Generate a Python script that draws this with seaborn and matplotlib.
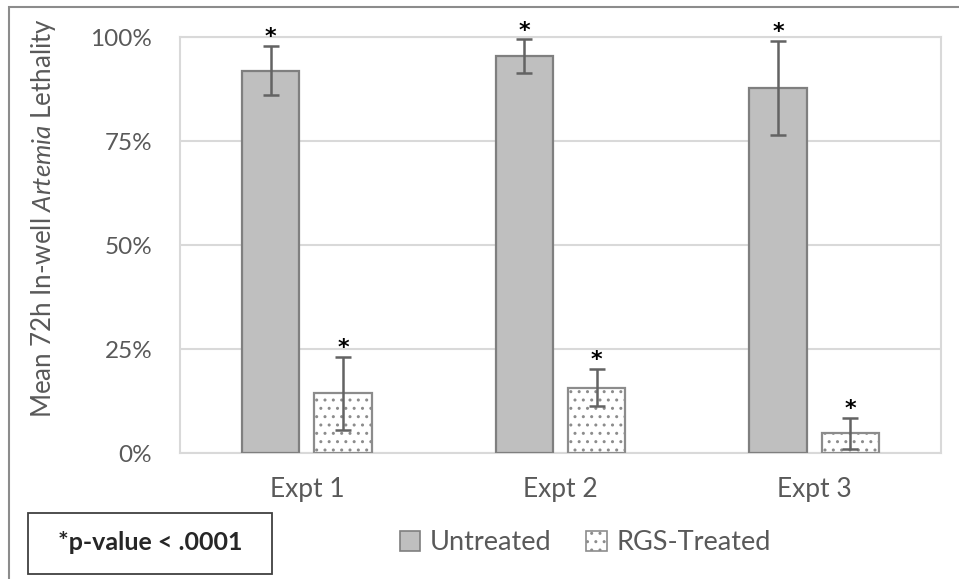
import matplotlib
matplotlib.use("Agg")
import matplotlib.pyplot as plt
from matplotlib.patches import Rectangle, Patch
from matplotlib.ticker import PercentFormatter
import seaborn as sns
import pandas as pd

# Mean 72 h lethality (fraction) and standard deviations per experiment
experiments = ["Expt 1", "Expt 2", "Expt 3"]
treatments = ["Untreated", "RGS-Treated"]
untreated_mean = [0.920, 0.955, 0.878]
untreated_sd = [0.059, 0.040, 0.113]
rgs_mean = [0.144, 0.158, 0.048]
rgs_sd = [0.088, 0.045, 0.038]
y_ticks = [0.0, 0.25, 0.50, 0.75, 1.00]

df = pd.DataFrame({
    "Experiment": experiments * 2,
    "Treatment": [treatments[0]] * 3 + [treatments[1]] * 3,
    "Lethality": untreated_mean + rgs_mean,
    "SD": untreated_sd + rgs_sd,
})

sns.set_theme(style="white")
plt.rcParams["font.family"] = ["Lato", "DejaVu Sans"]
plt.rcParams["mathtext.fontset"] = "custom"
plt.rcParams["mathtext.rm"] = "Lato"
plt.rcParams["mathtext.it"] = "Lato:italic"
plt.rcParams["hatch.color"] = "#b3b3b3"
plt.rcParams["hatch.linewidth"] = 1.0

text_gray = "#595959"
grid_gray = "#d9d9d9"

fig = plt.figure(figsize=(9.59, 5.79), dpi=100)
ax = fig.add_axes([0.1877, 0.2171, 0.9812 - 0.1877, 0.9356 - 0.2171])

sns.barplot(
    data=df, x="Experiment", y="Lethality", hue="Treatment",
    order=experiments, hue_order=treatments,
    palette=["#bfbfbf", "white"], width=0.57, gap=0.21,
    errorbar=None, legend=False, ax=ax, zorder=3,
)

# Bar styling: gray edges, dotted fill for the treated series
bars = [p for p in ax.patches if isinstance(p, Rectangle)]
n = len(experiments)
for i, p in enumerate(bars[: 2 * n]):
    p.set_edgecolor("#7f7f7f" if i < n else "#8c8c8c")
    p.set_linewidth(1.6)
    if i >= n:
        p.set_hatch("..")

# Error bars and significance stars
for i, p in enumerate(bars[: 2 * n]):
    xc = p.get_x() + p.get_width() / 2
    mean = df["Lethality"].iloc[i]
    sd = df["SD"].iloc[i]
    ax.errorbar(xc, mean, yerr=sd, fmt="none", ecolor="#636363",
                elinewidth=1.8, capsize=6, capthick=1.8, zorder=4)
    ax.annotate("*", (xc, mean + sd), xytext=(0, -1), textcoords="offset points",
                ha="center", va="bottom", fontsize=16, fontweight="bold",
                color="black", family="DejaVu Sans", zorder=5)

ax.set_ylim(0, 1.0)
ax.set_xlim(-0.5, n - 0.5)
ax.set_yticks(y_ticks)
ax.yaxis.set_major_formatter(PercentFormatter(1.0, decimals=0))
ax.yaxis.grid(True, color=grid_gray, linewidth=1.5, zorder=0)
ax.set_axisbelow(True)
for s in ax.spines.values():
    s.set_color(grid_gray)
    s.set_linewidth(1.5)
ax.tick_params(axis="y", length=0, labelsize=17.5, colors=text_gray, pad=20)
ax.tick_params(axis="x", length=0, labelsize=19, colors=text_gray, pad=17)
ax.set_xlabel("")
ax.set_ylabel(r"Mean 72h In-well $\mathit{Artemia}$ Lethality",
              fontsize=18.6, color=text_gray)
ax.yaxis.set_label_coords(-0.16, 0.565)

# Legend below the plot area
handles = [
    Patch(facecolor="#bfbfbf", edgecolor="#7f7f7f", linewidth=1.2, label=treatments[0]),
    Patch(facecolor="white", edgecolor="#8c8c8c", linewidth=1.2, hatch="..", label=treatments[1]),
]
fig.legend(handles=handles, loc="center", bbox_to_anchor=(585 / 959, 1 - 543 / 579),
           ncol=2, frameon=False, fontsize=19.5, handlelength=0.75, handleheight=0.75,
           handletextpad=0.35, columnspacing=1.3, labelcolor=text_gray)

# Significance note in a boxed label
fig.text(150 / 959, 1 - 543 / 579, "*p-value < .0001", ha="center", va="center",
         fontsize=18, fontweight="bold", color="#262626")
fig.add_artist(Rectangle((28 / 959, 1 - 574 / 579), 244 / 959, 61 / 579,
                         transform=fig.transFigure, fill=False,
                         edgecolor="#404040", linewidth=1.3))

# Outer chart frame
fig.add_artist(Rectangle((9 / 959, -0.05), 1.2, 1 - 6.5 / 579 + 0.05,
                         transform=fig.transFigure, fill=False,
                         edgecolor="#8c8c8c", linewidth=1.5))

fig.savefig("out.png", dpi=100, facecolor="white")
